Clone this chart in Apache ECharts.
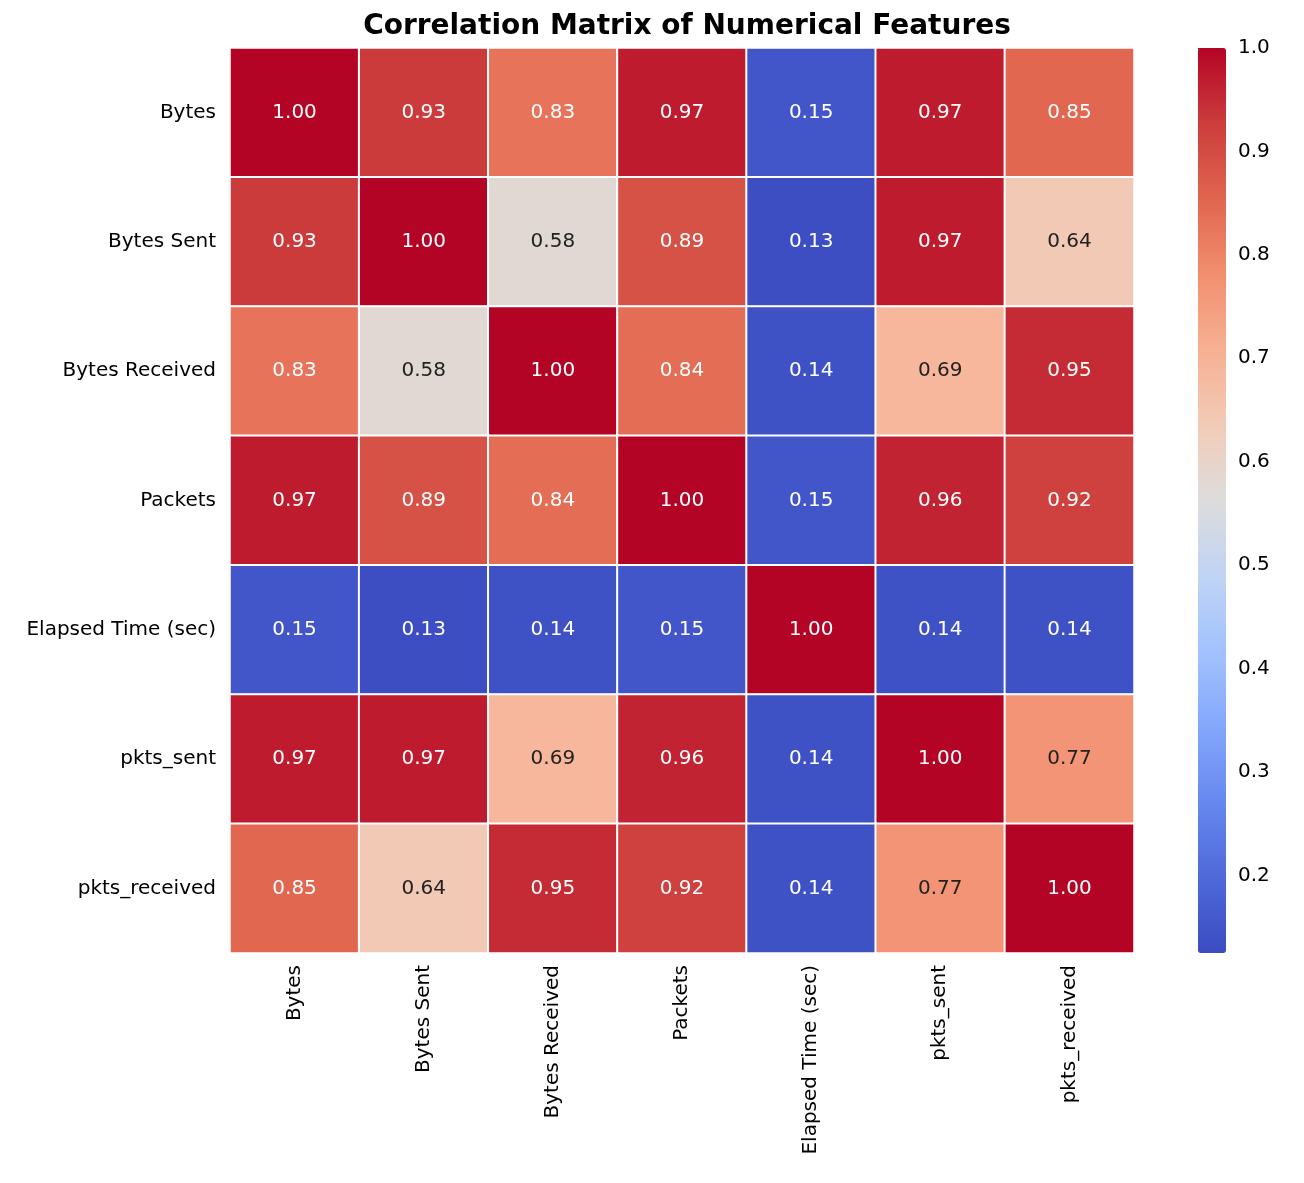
<!DOCTYPE html>
<html>
<head>
<meta charset="UTF-8">
<script src="https://cdn.jsdelivr.net/npm/echarts@6/dist/echarts.min.js"></script>
</head>
<body style="margin:0">
<div id="chart" style="width:1304px;height:1183px;"></div>
<script>
var features = ['Bytes', 'Bytes Sent', 'Bytes Received', 'Packets', 'Elapsed Time (sec)', 'pkts_sent', 'pkts_received']
var matrix = [
    [1.00, 0.93, 0.83, 0.97, 0.15, 0.97, 0.85],
    [0.93, 1.00, 0.58, 0.89, 0.13, 0.97, 0.64],
    [0.83, 0.58, 1.00, 0.84, 0.14, 0.69, 0.95],
    [0.97, 0.89, 0.84, 1.00, 0.15, 0.96, 0.92],
    [0.15, 0.13, 0.14, 0.15, 1.00, 0.14, 0.14],
    [0.97, 0.97, 0.69, 0.96, 0.14, 1.00, 0.77],
    [0.85, 0.64, 0.95, 0.92, 0.14, 0.77, 1.00]
]
var colorTicks = [0.2, 0.3, 0.4, 0.5, 0.6, 0.7, 0.8, 0.9, 1.0]
var vMin = 0.125, vMax = 1.0

var coolwarm = ['#3b4cc0', '#4f69d9', '#6788ee', '#84a7fc', '#a3c2fe', '#c0d4f5',
    '#dddcdc', '#f2cbb7', '#f7b093', '#f18f6f', '#e0654f', '#cc3d3c', '#b40426']
var data = []
matrix.forEach(function (row, i) {
    row.forEach(function (v, j) {
        var t = (v - vMin) / (vMax - vMin)
        data.push({
            value: [j, i, v],
            label: { color: (t > 0.25 && t < 0.75) ? '#222' : '#fff' }
        })
    })
})

var chart = echarts.init(document.getElementById('chart'))
chart.setOption({
    animation: false,
    textStyle: { fontFamily: 'DejaVu Sans' },
    title: {
        text: 'Correlation Matrix of Numerical Features',
        left: 682, top: 8, textAlign: 'center',
        textStyle: { fontSize: 28, fontWeight: 'bold', color: '#000' }
    },
    grid: [
        { left: 230, right: 170, top: 48, bottom: 230 },
        { left: 1198, right: 78, top: 48, bottom: 230 }
    ],
    xAxis: [{
        type: 'category', data: features, gridIndex: 0,
        axisLine: { show: false },
        axisTick: { alignWithLabel: true, length: 7, lineStyle: { color: '#000' } },
        axisLabel: { rotate: 90, fontSize: 20, color: '#000', margin: 12 },
        splitLine: { show: false }
    }, {
        type: 'value', gridIndex: 1, show: false
    }],
    yAxis: [{
        type: 'category', data: features, inverse: true, gridIndex: 0,
        axisLine: { show: false },
        axisTick: { alignWithLabel: true, length: 7, lineStyle: { color: '#000' } },
        axisLabel: { fontSize: 20, color: '#000', margin: 14 }
    }, {
        type: 'value', gridIndex: 1, position: 'right', min: vMin, max: vMax,
        axisLine: { show: false },
        splitLine: { show: false },
        axisTick: { show: true, length: 7, customValues: colorTicks, lineStyle: { color: '#000' } },
        axisLabel: {
            fontSize: 20, color: '#000', margin: 12, customValues: colorTicks,
            formatter: function (v) { return v.toFixed(1) }
        }
    }],
    visualMap: {
        type: 'continuous', min: vMin, max: vMax, dimension: 2, seriesIndex: 0,
        calculable: false, showLabel: false, text: null, padding: 0,
        left: 1198, top: 48, itemWidth: 28, itemHeight: 905,
        inRange: { color: coolwarm }
    },
    series: [{
        type: 'heatmap', data: data,
        xAxisIndex: 0, yAxisIndex: 0,
        itemStyle: { borderColor: '#fff', borderWidth: 2 },
        label: {
            show: true, fontSize: 20,
            formatter: function (p) { return p.value[2].toFixed(2) }
        }
    }]
})
</script>
</body>
</html>
